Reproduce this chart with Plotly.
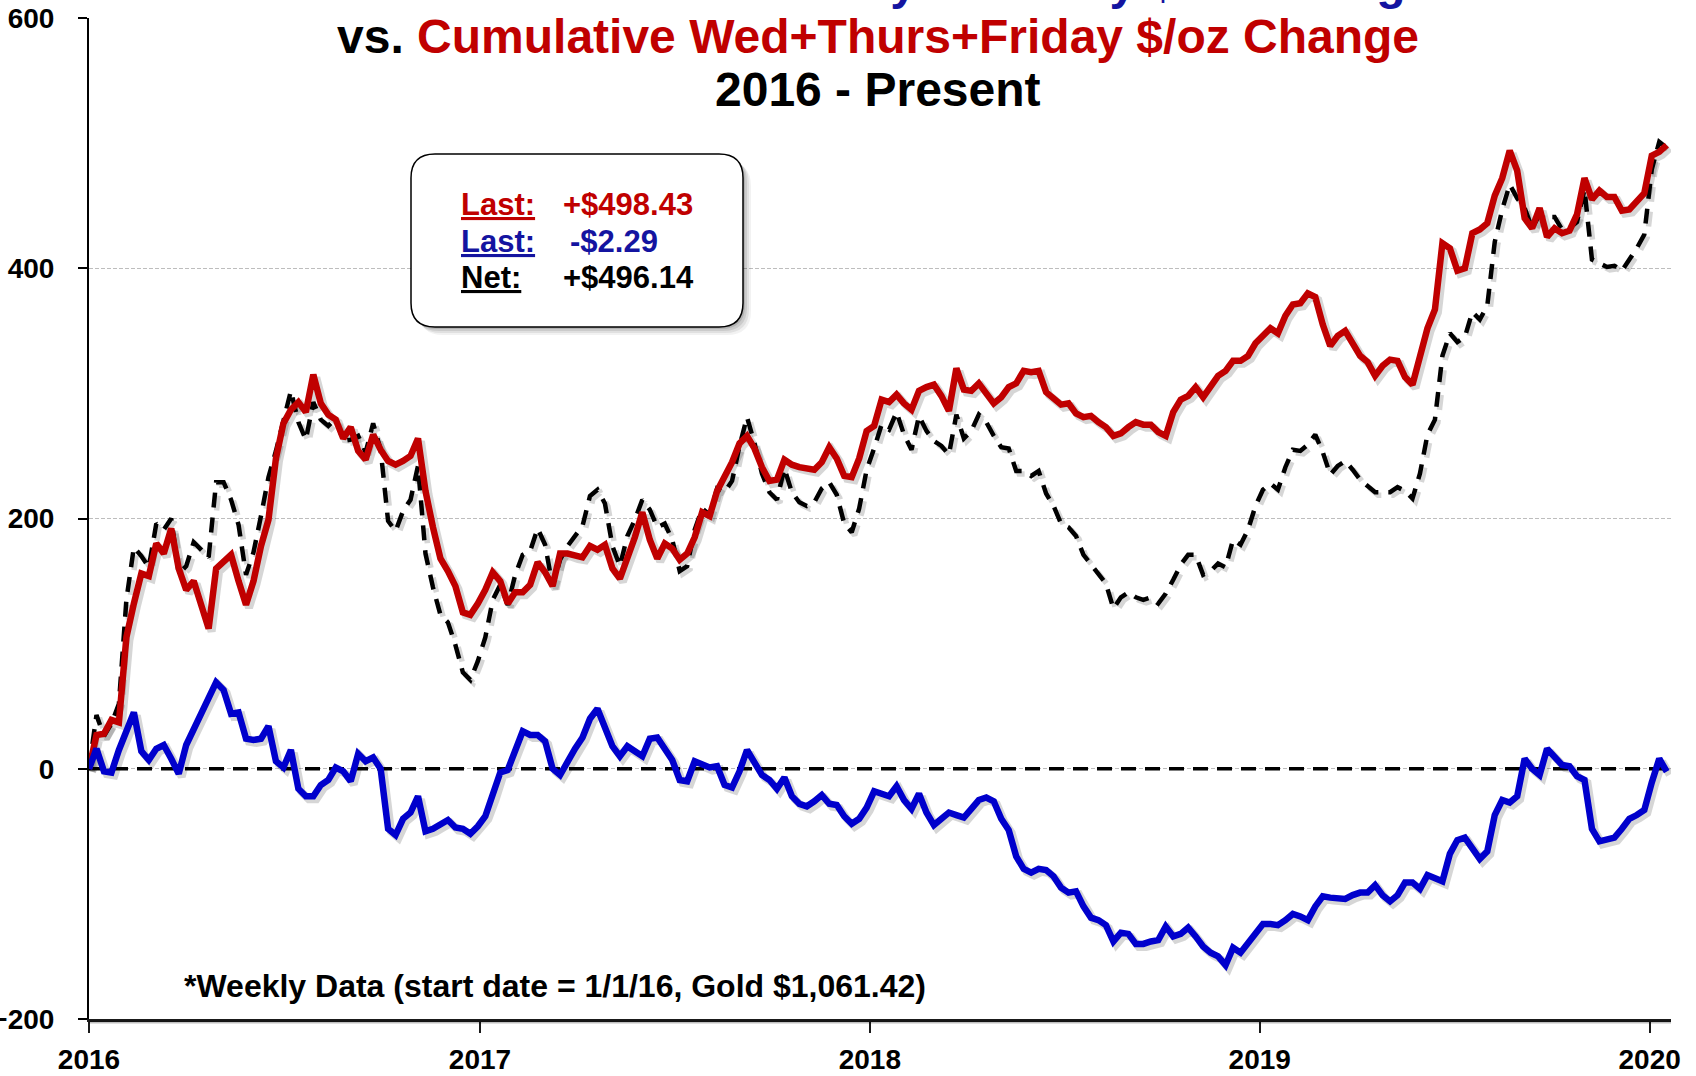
import pandas as pd
import plotly.graph_objects as go

# Weekly cumulative $/oz changes, first value on 1/1/16
start_date = "2016-01-01"

wed_fri_cum = [
    0, 27, 28, 39, 37, 105, 132, 156, 154, 180,
    172, 192, 160, 143, 150, 130, 112, 160, 166, 171,
    150, 131, 150, 178, 199, 248, 276, 287, 293, 285,
    315, 292, 283, 279, 264, 273, 254, 247, 267, 255,
    246, 243, 246, 250, 264, 222, 193, 168, 158, 146,
    125, 123, 132, 143, 157, 150, 132, 141, 141, 147,
    165, 157, 146, 172, 172, 170, 169, 178, 175, 179,
    160, 152, 168, 185, 205, 183, 168, 180, 176, 167,
    172, 185, 205, 202, 222, 234, 245, 260, 266, 256,
    241, 230, 231, 247, 243, 241, 240, 239, 245, 257,
    248, 234, 233, 248, 270, 274, 295, 293, 299, 292,
    287, 302, 305, 307, 298, 286, 320, 303, 302, 308,
    300, 292, 297, 305, 308, 318, 317, 318, 301, 296,
    291, 292, 284, 281, 282, 277, 273, 266, 268, 273,
    277, 275, 275, 269, 266, 285, 295, 298, 305, 297,
    305, 314, 318, 326, 326, 330, 340, 347, 352, 348,
    362, 371, 372, 380, 377, 355, 338, 346, 350, 340,
    330, 325, 314, 322, 327, 326, 313, 307, 332, 352,
    367, 420, 416, 398, 400, 428, 431, 436, 458, 472,
    494, 478, 440, 432, 448, 425, 432, 428, 430, 443,
    472, 455, 462, 457, 457, 446, 447, 453, 460, 490,
    493, 498.43,
]

mon_tue_cum = [
    0, 16, -2, -3, 15, 30, 45, 14, 7, 16,
    19, 8, -4, 19, 31, 45, 57, 69, 63, 44,
    45, 24, 23, 24, 34, 6, 1, 15, -16, -22,
    -22, -13, -9, 1, -2, -10, 12, 6, 9, 0,
    -48, -53, -40, -35, -22, -50, -48, -45, -41, -47,
    -48, -52, -46, -38, -22, -3, -1, 14, 30, 27,
    27, 22, 0, -5, 6, 16, 25, 40, 48, 33,
    18, 10, 18, 14, 10, 24, 25, 16, 7, -9,
    -10, 6, 3, 1, 2, -13, -15, -2, 15, 4,
    -5, -9, -16, -7, -22, -28, -30, -26, -21, -28,
    -29, -38, -44, -40, -31, -18, -20, -22, -14, -25,
    -32, -20, -35, -45, -40, -35, -37, -39, -32, -25,
    -23, -26, -40, -49, -70, -80, -83, -80, -81, -86,
    -95, -99, -98, -110, -119, -121, -125, -138, -131, -132,
    -140, -140, -138, -137, -126, -134, -132, -127, -134, -142,
    -147, -150, -157, -143, -147, -139, -130, -124, -124, -125,
    -121, -116, -118, -121, -110, -102, -103, -104, -104, -101,
    -99, -99, -93, -101, -106, -101, -91, -91, -96, -85,
    -88, -90, -68, -57, -55, -63, -72, -66, -37, -25,
    -27, -22, 8, 0, -5, 16, 9, 3, 2, -6,
    -9, -48, -58, -56, -55, -48, -40, -37, -33, -11,
    8, -2.29,
]

net_cum = [round(a + b, 2) for a, b in zip(wed_fri_cum, mon_tue_cum)]
weeks = pd.date_range(start_date, periods=len(wed_fri_cum), freq="7D")

year_ticks = ["2016-01-01", "2017-01-01", "2018-01-01", "2019-01-01", "2020-01-01"]
year_labels = ["2016", "2017", "2018", "2019", "2020"]
y_ticks = [-200, 0, 200, 400, 600]

RED = "#C00000"
BLUE = "#0000CC"
NAVY = "#1414A0"
FONT = "Liberation Sans, Arial, sans-serif"

W, H = 1696, 1076
L, R, T, B = 89, 25, 18, 57
PW, PH = W - L - R, H - T - B

x_range = [pd.Timestamp("2016-01-01"), pd.Timestamp("2020-01-21")]
y_range = [-200, 600]
px_per_day = PW / (x_range[1] - x_range[0]).days
units_per_px = (y_range[1] - y_range[0]) / PH


def px(x):
    return (x - L) / PW


def py(y):
    return (H - B - y) / PH


def fmt(ts):
    return ts.strftime("%Y-%m-%d %H:%M:%S")


# drop shadow: same series on a copy of the axes nudged a few pixels
sh = 3
sx = pd.Timedelta(days=sh / px_per_day)
sy = sh * units_per_px

fig = go.Figure()

# zero reference line
fig.add_trace(go.Scatter(
    x=[x_range[0], x_range[1]], y=[0, 0], mode="lines",
    line=dict(color="black", width=3.5, dash="15px,9px"),
    hoverinfo="skip", xaxis="x", yaxis="y",
))

shadow = "rgba(0,0,0,0.16)"
fig.add_trace(go.Scatter(x=weeks, y=net_cum, mode="lines",
                         line=dict(color=shadow, width=5.5, dash="15px,10px"),
                         xaxis="x2", yaxis="y2", hoverinfo="skip"))
fig.add_trace(go.Scatter(x=weeks, y=wed_fri_cum, mode="lines",
                         line=dict(color=shadow, width=8),
                         xaxis="x2", yaxis="y2", hoverinfo="skip"))
fig.add_trace(go.Scatter(x=weeks, y=mon_tue_cum, mode="lines",
                         line=dict(color=shadow, width=8),
                         xaxis="x2", yaxis="y2", hoverinfo="skip"))

fig.add_trace(go.Scatter(x=weeks, y=net_cum, mode="lines", name="Net",
                         line=dict(color="black", width=4.5, dash="15px,10px"),
                         xaxis="x3", yaxis="y3"))
fig.add_trace(go.Scatter(x=weeks, y=wed_fri_cum, mode="lines", name="Wed+Thurs+Friday",
                         line=dict(color=RED, width=6.5),
                         xaxis="x3", yaxis="y3"))
fig.add_trace(go.Scatter(x=weeks, y=mon_tue_cum, mode="lines", name="Monday+Tuesday",
                         line=dict(color=BLUE, width=6.5),
                         xaxis="x3", yaxis="y3"))


def rrect(x0, y0, x1, y1, r):
    X, Y = px, py
    return (
        f"M {X(x0 + r)},{Y(y0)} L {X(x1 - r)},{Y(y0)} "
        f"Q {X(x1)},{Y(y0)} {X(x1)},{Y(y0 + r)} "
        f"L {X(x1)},{Y(y1 - r)} Q {X(x1)},{Y(y1)} {X(x1 - r)},{Y(y1)} "
        f"L {X(x0 + r)},{Y(y1)} Q {X(x0)},{Y(y1)} {X(x0)},{Y(y1 - r)} "
        f"L {X(x0)},{Y(y0 + r)} Q {X(x0)},{Y(y0)} {X(x0 + r)},{Y(y0)} Z"
    )


shapes = []
# white band behind the title
shapes.append(dict(type="rect", xref="paper", yref="paper",
                   x0=px(300), x1=px(1456), y0=py(45), y1=py(-10),
                   fillcolor="white", line=dict(width=0), layer="above"))
# shadow under the x axis line
shapes.append(dict(type="line", xref="paper", yref="paper",
                   x0=0, x1=1, y0=py(H - B + 3), y1=py(H - B + 3),
                   line=dict(color="rgba(0,0,0,0.25)", width=3), layer="above"))
# stats box with soft shadow
bx0, by0, bx1, by1, br = 411, 154, 743, 327, 24
for off, a in [(8, 0.05), (6, 0.07), (4, 0.09), (2, 0.12)]:
    shapes.append(dict(type="path", xref="paper", yref="paper",
                       path=rrect(bx0 + off, by0 + off, bx1 + off, by1 + off, br),
                       fillcolor=f"rgba(0,0,0,{a})", line=dict(width=0), layer="above"))
shapes.append(dict(type="path", xref="paper", yref="paper",
                   path=rrect(bx0, by0, bx1, by1, br),
                   fillcolor="white", line=dict(color="black", width=1.5), layer="above"))

annotations = []


def note(text, x, y, size, xanchor="center", color="black"):
    annotations.append(dict(
        text=text, x=px(x), y=py(y), xref="paper", yref="paper",
        xanchor=xanchor, yanchor="middle", showarrow=False,
        font=dict(family=FONT, size=size, color=color),
    ))


note(f"<b>Gold: <span style='color:{NAVY}'>Cumulative Monday+Tuesday $/oz Change</span></b>",
     878, -17, 48)
note(f"<b>vs. <span style='color:{RED}'>Cumulative Wed+Thurs+Friday $/oz Change</span></b>",
     878, 36.5, 48)
note("<b>2016 - Present</b>", 878, 89, 48)

note("<b><u>Last:</u></b>", 459, 204, 31, "left", RED)
note("<b>+$498.43</b>", 561, 204, 31, "left", RED)
note("<b><u>Last:</u></b>", 459, 241, 31, "left", NAVY)
note("<b>-$2.29</b>", 568, 241, 31, "left", NAVY)
note("<b><u>Net:</u></b>", 459, 277, 31, "left", "black")
note("<b>+$496.14</b>", 561, 277, 31, "left", "black")

note("<b>*Weekly Data (start date = 1/1/16, Gold $1,061.42)</b>", 182, 986, 32, "left")

tickfont = dict(family=FONT, size=28, color="black", weight="bold")

fig.update_layout(
    width=W, height=H,
    margin=dict(l=L, r=R, t=T, b=B, pad=0, autoexpand=False),
    paper_bgcolor="white", plot_bgcolor="white",
    showlegend=False,
    shapes=shapes, annotations=annotations,
    xaxis=dict(
        type="date", range=[fmt(x_range[0]), fmt(x_range[1])],
        tickvals=year_ticks, ticktext=year_labels, tickfont=tickfont,
        showgrid=False, zeroline=False, automargin=False,
        showline=True, linecolor="#1a1a1a", linewidth=3,
        ticks="outside", ticklen=11, tickwidth=2, tickcolor="#1a1a1a",
        ticklabelstandoff=2,
    ),
    yaxis=dict(
        range=y_range, tickvals=y_ticks, tickfont=tickfont,
        showgrid=True, gridcolor="#BDBDBD", gridwidth=1, griddash="4px,2px",
        zeroline=False, automargin=False,
        showline=True, linecolor="black", linewidth=2,
        ticks="outside", ticklen=9, tickwidth=2, tickcolor="black",
        ticklabelstandoff=18,
    ),
    xaxis2=dict(type="date", overlaying="x", visible=False,
                range=[fmt(x_range[0] - sx), fmt(x_range[1] - sx)]),
    yaxis2=dict(overlaying="y", visible=False,
                range=[y_range[0] + sy, y_range[1] + sy]),
    xaxis3=dict(type="date", overlaying="x", visible=False,
                range=[fmt(x_range[0]), fmt(x_range[1])]),
    yaxis3=dict(overlaying="y", visible=False, range=y_range),
)

fig.write_html("out.html", config={"displayModeBar": False})
